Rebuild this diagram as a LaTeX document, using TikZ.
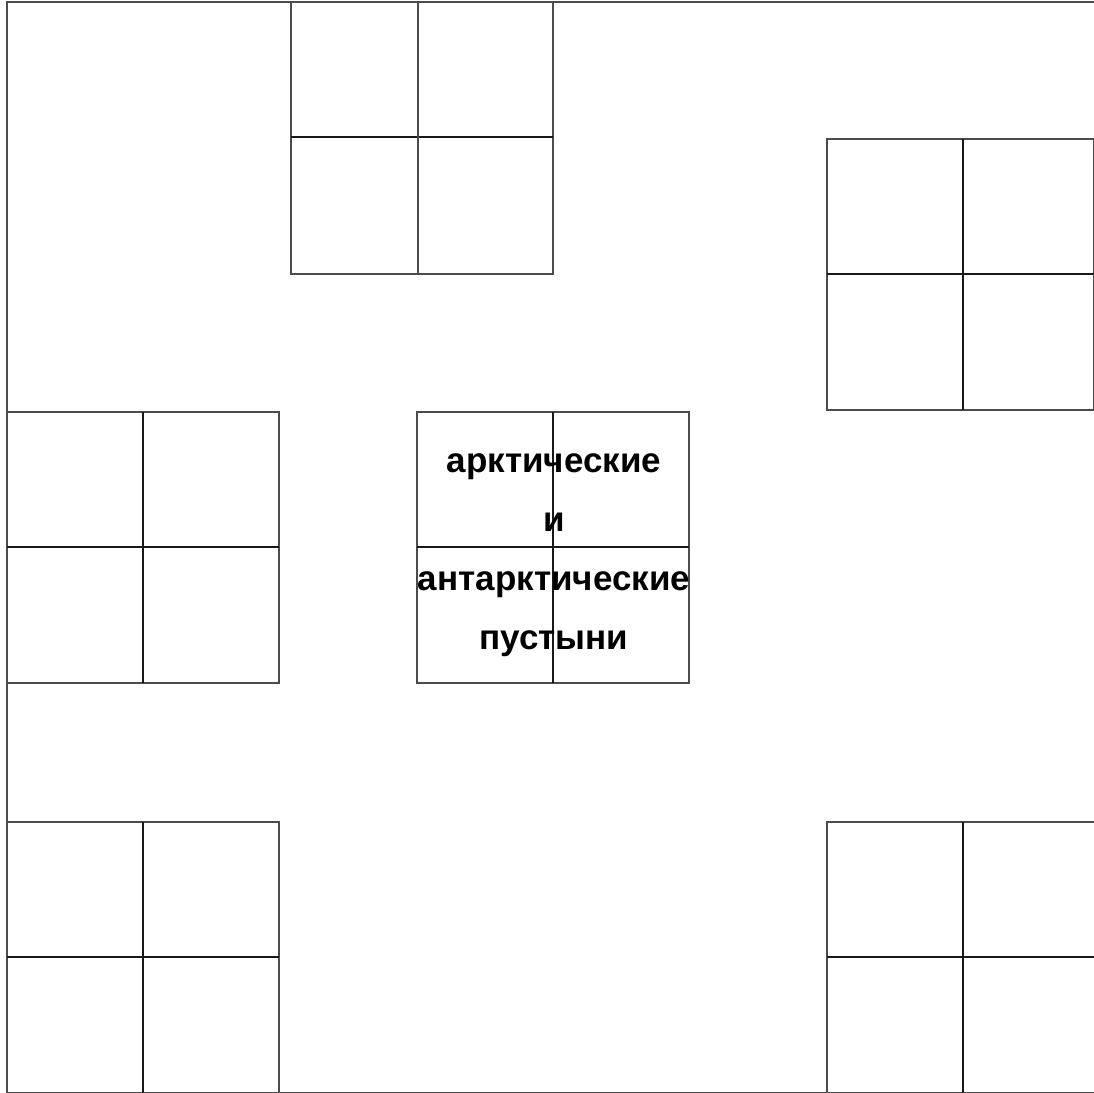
\documentclass[tikz,border=0pt]{standalone}
\usepackage{fontspec}
\setmainfont{Liberation Sans}
\begin{document}
\begin{tikzpicture}[x=1pt, y=-1pt]
	\tikzset{
		frame/.style={draw=black!70, line width=1.3pt},
		cellbox/.style={draw=black!70, line width=1.3pt},
		cellline/.style={draw=black!90, line width=1.6pt},
		desert/.style={align=center, font=\bfseries\fontsize{35}{59}\selectfont, inner sep=0pt}
	}
	\useasboundingbox (0,0) rectangle (1094,1092);
	\draw[frame] (7,2) rectangle (1094.5,1092.5);
	% top
	\draw[cellbox] (291,2) rectangle (553,274);
	\draw[cellline] (291,137) -- (553,137);
	\draw[cellbox] (418,2) -- (418,274);
	% right top
	\draw[cellbox] (827,139) rectangle (1094,410);
	\draw[cellline] (827,274) -- (1094,274);
	\draw[cellline] (963,139) -- (963,410);
	% left middle
	\draw[cellbox] (7,412) rectangle (279,683);
	\draw[cellline] (7,547) -- (279,547);
	\draw[cellline] (143,412) -- (143,683);
	% centre
	\draw[cellbox] (417,412) rectangle (689,683);
	\draw[cellline] (417,547) -- (689,547);
	\draw[cellline] (553,412) -- (553,683);
	% bottom left
	\draw[cellbox] (7,822) rectangle (279,1093);
	\draw[cellline] (7,957) -- (279,957);
	\draw[cellline] (143,822) -- (143,1093);
	% bottom right
	\draw[cellbox] (827,822) rectangle (1095,1093);
	\draw[cellline] (827,957) -- (1094,957);
	\draw[cellline] (963,822) -- (963,1093);
	\node[desert] (deserts) at (554,555) {арктические\\и\\антарктические\\пустыни};
\end{tikzpicture}
\end{document}
